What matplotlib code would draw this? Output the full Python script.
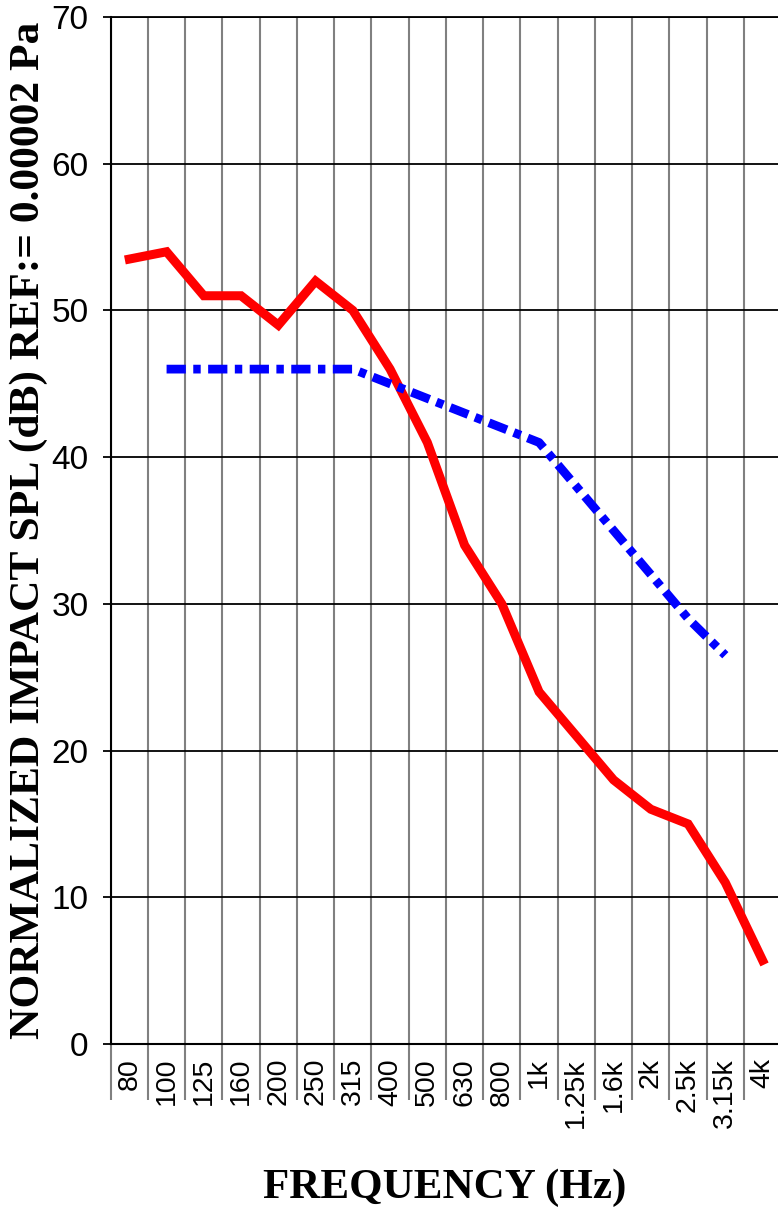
import numpy as np
import matplotlib.pyplot as plt
from matplotlib.ticker import FixedLocator

# one-third octave bands
bands = ['80', '100', '125', '160', '200', '250', '315', '400', '500',
         '630', '800', '1k', '1.25k', '1.6k', '2k', '2.5k', '3.15k', '4k']

# measured curve (all bands)
measured = [53.5, 54, 51, 51, 49, 52, 50, 46, 41, 34, 30, 24, 21, 18, 16, 15, 11, 5.7]

# reference contour, 100 Hz .. 3.15 kHz
ref_bands = bands[1:17]
reference = [46, 46, 46, 46, 46, 46, 45, 44, 43, 42, 41, 38, 35, 32, 29, 26.5]

W, H = 778, 1209
fig = plt.figure(figsize=(W / 100, H / 100), dpi=100)
ax = fig.add_axes([110.7 / W, (H - 1044) / H, 670.5 / W, (1044 - 17) / H])

x = np.arange(len(bands))
xr = np.array([bands.index(b) for b in ref_bands])

ax.plot(x, measured, color='#ff0000', lw=6.5, solid_joinstyle='miter', zorder=3)
ax.plot(xr, reference, color='#0000ff', lw=6.3, dashes=(2.2, 0.85, 0.85, 0.85),
        zorder=3)

ax.set_xlim(-0.5, len(bands) - 0.5)
ax.set_ylim(0, 70)
ax.set_yticks(np.arange(0, 71, 10))

ax.set_xticks(x)
ax.set_xticklabels(bands, rotation=90, fontsize=20.5, family='Liberation Sans')
ax.xaxis.set_minor_locator(FixedLocator(np.arange(-0.5, len(bands), 1)))
ax.tick_params(axis='x', which='major', length=0, pad=10)
ax.tick_params(axis='x', which='minor', length=40, width=1.5, color='#808080',
               direction='out')
ax.tick_params(axis='y', length=6, width=1.3, direction='out', pad=10,
               labelsize=24)
for t in ax.get_yticklabels():
    t.set_family('Liberation Sans')

ax.grid(axis='x', which='minor', color='#808080', lw=1.5)
ax.grid(axis='y', which='major', color='black', lw=1.3)
ax.set_axisbelow(True)

ax.spines['right'].set_visible(False)
ax.spines['top'].set_linewidth(1.3)
ax.spines['left'].set_linewidth(1.5)
ax.spines['bottom'].set_linewidth(1.5)

fig.text(29 / W, 1 - 530 / H, 'NORMALIZED IMPACT SPL (dB) REF:= 0.00002 Pa',
         rotation=90, ha='center', va='center', fontsize=31.3,
         family='Liberation Serif', weight='bold')
fig.text(445 / W, 11 / H, 'FREQUENCY (Hz)', ha='center', va='baseline',
         fontsize=31, family='Liberation Serif', weight='bold')

fig.savefig('out.png', dpi=100)
